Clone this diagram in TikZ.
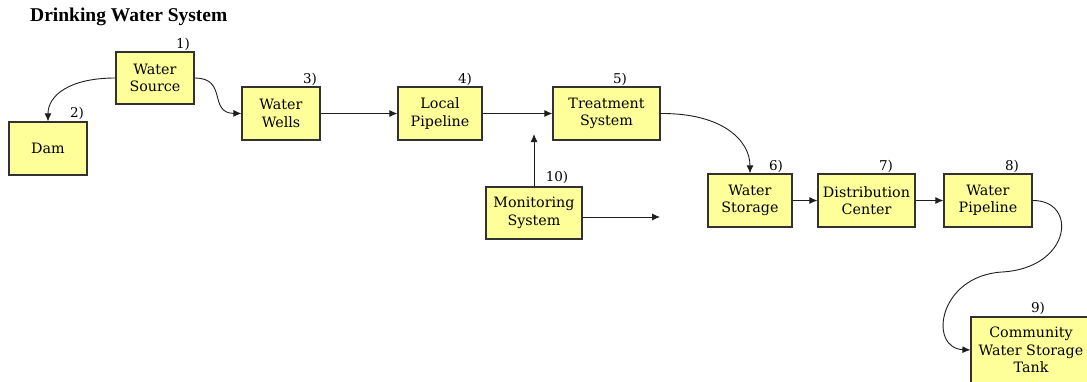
\documentclass[tikz,border=0pt]{standalone}
\usepackage{fontspec}
\setmainfont{DejaVu Serif}
\newfontfamily\titlefont{Liberation Serif}
\usetikzlibrary{arrows.meta}
\definecolor{boxfill}{RGB}{255,255,153}
\definecolor{boxline}{RGB}{50,50,50}
\definecolor{conn}{RGB}{30,30,30}
\tikzset{
  stepbox/.style={draw=boxline, line width=1.2pt, fill=boxfill, inner sep=0pt,
    align=center, font=\fontsize{14.3}{17.5}\selectfont},
  numlabel/.style={font=\fontsize{13.5}{14}\selectfont, inner sep=0pt},
  conline/.style={draw=conn, line width=0.9pt, -{Latex[length=8pt,width=7pt]}},
}
\begin{document}
\begin{tikzpicture}[x=1pt,y=-1pt]
\useasboundingbox (0,0) rectangle (1087,381);
\clip (0,0) rectangle (1087,381);
\node[font=\titlefont\bfseries\fontsize{19.5}{21}\selectfont, anchor=west, inner sep=0pt] (title) at (30,17) {Drinking Water System};
% boxes
\node[stepbox, minimum width=78pt, minimum height=52pt] (src) at (155,78) {Water\\Source};
\node[stepbox, minimum width=78pt, minimum height=53pt] (dam) at (48,148.5) {Dam};
\node[stepbox, minimum width=78pt, minimum height=53pt] (wells) at (281,113.5) {Water\\Wells};
\node[stepbox, minimum width=84pt, minimum height=53pt] (local) at (440,113.5) {Local\\Pipeline};
\node[stepbox, minimum width=107pt, minimum height=53pt] (treat) at (606.5,113.5) {Treatment\\System};
\node[stepbox, minimum width=96pt, minimum height=52pt] (mon) at (534,213) {Monitoring\\System};
\node[stepbox, minimum width=84pt, minimum height=53pt] (stor) at (750,200.5) {Water\\Storage};
\node[stepbox, minimum width=97pt, minimum height=53pt] (dist) at (866.5,200.5) {Distribution\\Center};
\node[stepbox, minimum width=88pt, minimum height=53pt] (pipe) at (988,200.5) {Water\\Pipeline};
\node[stepbox, minimum width=120pt, minimum height=66pt] (comm) at (1031,350) {Community\\Water Storage\\Tank};
% number labels
\node[numlabel] (n1) at (183,44) {1)};
\node[numlabel] (n2) at (77,113) {2)};
\node[numlabel] (n3) at (310,79) {3)};
\node[numlabel] (n4) at (465,79) {4)};
\node[numlabel] (n5) at (620,79) {5)};
\node[numlabel] (n6) at (776,166) {6)};
\node[numlabel] (n7) at (886,166) {7)};
\node[numlabel] (n8) at (1012,166) {8)};
\node[numlabel] (n9) at (1038,308) {9)};
\node[numlabel] (n10) at (557,177) {10)};
% free ends
\coordinate (up) at (534,134);
\coordinate (rt) at (660,217);
\coordinate (mid) at (1002,272);
% connectors
\draw[conline] (src.west) .. controls (70,78) and (48,95) .. (dam.north);
\draw[conline] (src.east) .. controls (228,78) and (208,113) .. (wells.west);
\draw[conline] (wells.east) -- (local.west);
\draw[conline] (local.east) -- (treat.west);
\draw[conline] (mon.north) -- (up);
\draw[conline] (mon.east |- rt) -- (rt);
\draw[conline] (treat.east) .. controls (722,113) and (750,140) .. (stor.north);
\draw[conline] (stor.east) -- (dist.west);
\draw[conline] (dist.east) -- (pipe.west);
\draw[conline] (pipe.east) .. controls (1078,200) and (1072,268) .. (mid)
  .. controls (938,276) and (928,348) .. (comm.west);
\end{tikzpicture}
\end{document}
